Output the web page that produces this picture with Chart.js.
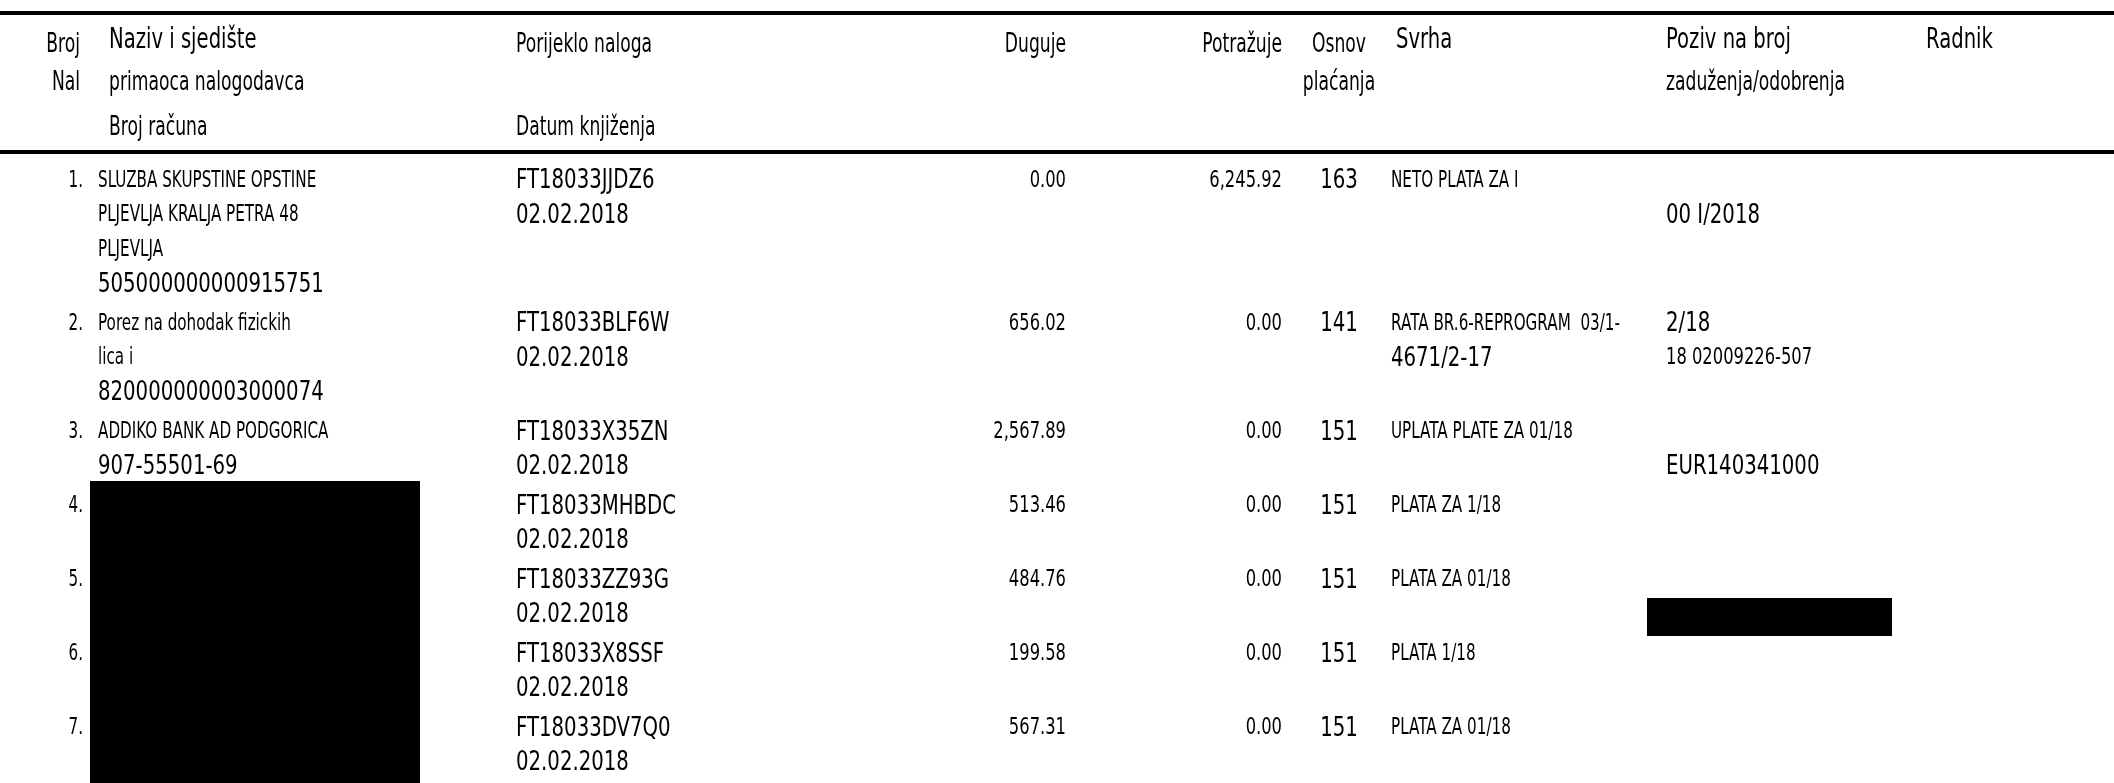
<!DOCTYPE html>
<html>
<head>
<meta charset="utf-8">
<script src="https://cdn.jsdelivr.net/npm/chart.js@4.4.1/dist/chart.umd.min.js"></script>
<style>
  html, body { margin: 0; padding: 0; background: #fff; }
  #wrap { width: 2114px; height: 783px; position: relative; }
</style>
</head>
<body>
<div id="wrap"><canvas id="statement"></canvas></div>
<script>
// --- table data ---
const rowNumbers = ['1.', '2.', '3.', '4.', '5.', '6.', '7.'];
const payeeNames = [
    ['SLUZBA SKUPSTINE OPSTINE', 'PLJEVLJA KRALJA PETRA 48', 'PLJEVLJA'],
    ['Porez na dohodak fizickih', 'lica i'],
    ['ADDIKO BANK AD PODGORICA'],
    [], [], [], []
];
const accountNumbers = ['505000000000915751', '820000000003000074', '907-55501-69', '', '', '', ''];
const orderIds = ['FT18033JJDZ6', 'FT18033BLF6W', 'FT18033X35ZN', 'FT18033MHBDC', 'FT18033ZZ93G', 'FT18033X8SSF', 'FT18033DV7Q0'];
const bookingDates = ['02.02.2018', '02.02.2018', '02.02.2018', '02.02.2018', '02.02.2018', '02.02.2018', '02.02.2018'];
const debitValues = [0.00, 656.02, 2567.89, 513.46, 484.76, 199.58, 567.31];
const creditValues = [6245.92, 0.00, 0.00, 0.00, 0.00, 0.00, 0.00];
const paymentCodes = ['163', '141', '151', '151', '151', '151', '151'];
const purposes = [
    ['NETO PLATA ZA I'],
    ['RATA BR.6-REPROGRAM  03/1-', '4671/2-17'],
    ['UPLATA PLATE ZA 01/18'],
    ['PLATA ZA 1/18'],
    ['PLATA ZA 01/18'],
    ['PLATA 1/18'],
    ['PLATA ZA 01/18']
];
const references = [['', '00 I/2018'], ['2/18', '18 02009226-507'], ['', 'EUR140341000'], [], [], [], []];

// header labels
const headNum = ['Broj', 'Nal'];
const headName = ['Naziv i sjedište', 'primaoca nalogodavca', 'Broj računa'];
const headOrigin = ['Porijeklo naloga', '', 'Datum knjiženja'];
const headDebit = ['Duguje'];
const headCredit = ['Potražuje'];
const headCode = ['Osnov', 'plaćanja'];
const headPurpose = ['Svrha'];
const headRef = ['Poziv na broj', 'zaduženja/odobrenja'];
const headWorker = ['Radnik'];

// --- layout ---
const PAGE_W = 2114, PAGE_H = 783;
const fonts = {
    head:    { size: 26, sx: 0.66 },
    headBig: { size: 28, sx: 0.70 },
    small:   { size: 23, sx: 0.66 },
    amount:  { size: 23, sx: 0.71 },
    big:     { size: 27, sx: 0.73 }
};
const columns = {
    num:     { x: 83,   align: 'right',  font: 'small', headX: 80 },
    name:    { x: 98,   align: 'left',   font: 'small', headX: 109 },
    origin:  { x: 516,  align: 'left',   font: 'big' },
    debit:   { x: 1066, align: 'right',  font: 'amount' },
    credit:  { x: 1282, align: 'right',  font: 'amount' },
    code:    { x: 1339, align: 'center', font: 'big' },
    purpose: { x: 1391, align: 'left',   font: 'small', headX: 1396 },
    ref:     { x: 1666, align: 'left',   font: 'big' },
    worker:  { x: 1926, align: 'left',   font: 'big' }
};
const headLines = [45, 83, 128];
const bodyTop = 181, lineH = 34.5, rowGap = 5;
const rules = [13, 152];
const redactions = [
    { x0: 90, x1: 420, y0: 481, y1: 783 },
    { x0: 1647, x1: 1892, y0: 598, y1: 636 }
];

function money(v) {
    return v.toLocaleString('en-US', { minimumFractionDigits: 2, maximumFractionDigits: 2 });
}

// y of every body line
const rowStart = [];
let lineCount = 0;
rowNumbers.forEach((n, r) => {
    rowStart.push(bodyTop + lineCount * lineH + r * rowGap);
    const nameLines = payeeNames[r].length + (accountNumbers[r] ? 1 : 0);
    lineCount += Math.max(nameLines, 2, purposes[r].length, references[r].length);
});
const lineY = (r, i) => rowStart[r] + i * lineH;

const cells = {};
Object.keys(columns).forEach(k => { cells[k] = []; });
function put(col, x, y, text, font) {
    if (!text) return;
    const c = columns[col];
    cells[col].push({ x: x, y: y, text: text, align: c.align, font: font || c.font });
}

// header
const headBig = { 'Naziv i sjedište': 1, 'Svrha': 1, 'Poziv na broj': 1, 'Radnik': 1 };
[['num', headNum], ['name', headName], ['origin', headOrigin], ['debit', headDebit],
 ['credit', headCredit], ['code', headCode], ['purpose', headPurpose], ['ref', headRef],
 ['worker', headWorker]].forEach(([col, labels]) => {
    const hx = columns[col].headX || columns[col].x;
    labels.forEach((t, i) => {
        const big = headBig[t];
        put(col, hx, big ? headLines[i] - 4 : headLines[i], t, big ? 'headBig' : 'head');
    });
});

// body
const bigPurpose = { '1:1': 1 };
const amountRef = { '1:1': 1 };
rowNumbers.forEach((n, r) => {
    put('num', columns.num.x, lineY(r, 0), n, 'small');
    payeeNames[r].forEach((t, i) => put('name', columns.name.x, lineY(r, i), t));
    put('name', columns.name.x, lineY(r, payeeNames[r].length), accountNumbers[r], 'big');
    put('origin', columns.origin.x, lineY(r, 0), orderIds[r]);
    put('origin', columns.origin.x, lineY(r, 1), bookingDates[r]);
    put('debit', columns.debit.x, lineY(r, 0), money(debitValues[r]));
    put('credit', columns.credit.x, lineY(r, 0), money(creditValues[r]));
    put('code', columns.code.x, lineY(r, 0), paymentCodes[r]);
    purposes[r].forEach((t, i) => put('purpose', columns.purpose.x, lineY(r, i), t, bigPurpose[r + ':' + i] ? 'big' : null));
    references[r].forEach((t, i) => put('ref', columns.ref.x, lineY(r, i), t, amountRef[r + ':' + i] ? 'amount' : null));
});

const datasets = [];
Object.keys(cells).forEach(k => {
    datasets.push({ label: k, data: cells[k], pointRadius: 0, showLine: false });
});
rules.forEach(y => {
    datasets.push({
        label: 'rule', rule: true, showLine: true, pointRadius: 0,
        borderColor: '#000', borderWidth: 4,
        data: [{ x: 0, y: y }, { x: PAGE_W, y: y }]
    });
});

const cellText = {
    id: 'cellText',
    afterDatasetsDraw(chart) {
        const ctx = chart.ctx;
        chart.data.datasets.forEach((ds, i) => {
            if (ds.rule) return;
            chart.getDatasetMeta(i).data.forEach((pt, j) => {
                const cell = ds.data[j];
                const f = fonts[cell.font];
                ctx.save();
                ctx.translate(pt.x, pt.y);
                ctx.scale(f.sx, 1);
                ctx.font = f.size + 'px "DejaVu Sans"';
                ctx.textAlign = cell.align;
                ctx.textBaseline = 'middle';
                ctx.fillStyle = '#000';
                ctx.fillText(cell.text, 0, 0);
                ctx.restore();
            });
        });
    },
    afterDraw(chart) {
        const ctx = chart.ctx;
        const xs = chart.scales.x, ys = chart.scales.y;
        ctx.save();
        ctx.fillStyle = '#000';
        redactions.forEach(b => {
            const x0 = xs.getPixelForValue(b.x0), x1 = xs.getPixelForValue(b.x1);
            const y0 = ys.getPixelForValue(b.y0), y1 = ys.getPixelForValue(b.y1);
            ctx.fillRect(x0, y0, x1 - x0, y1 - y0);
        });
        ctx.restore();
    }
};

new Chart(document.getElementById('statement'), {
    type: 'scatter',
    data: { datasets: datasets },
    options: {
        responsive: true,
        maintainAspectRatio: false,
        devicePixelRatio: 1,
        animation: false,
        layout: { padding: 0 },
        plugins: { legend: { display: false }, tooltip: { enabled: false } },
        scales: {
            x: { type: 'linear', min: 0, max: PAGE_W, display: false },
            y: { type: 'linear', min: 0, max: PAGE_H, reverse: true, display: false }
        }
    },
    plugins: [cellText]
});
</script>
</body>
</html>
